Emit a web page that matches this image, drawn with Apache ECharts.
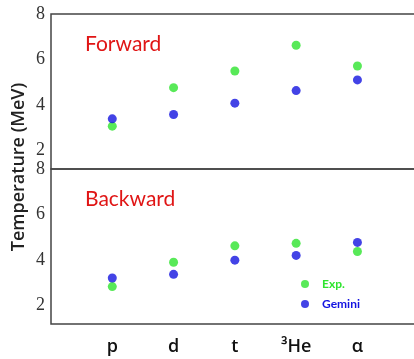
<!DOCTYPE html>
<html>
<head>
<meta charset="utf-8">
<script src="https://cdn.jsdelivr.net/npm/echarts@6/dist/echarts.min.js"></script>
<style>
html, body { margin: 0; padding: 0; background: #fff; }
#chart { width: 414px; height: 359px; }
</style>
</head>
<body>
<div id="chart"></div>
<script>
// particles
var particles = ['p', 'd', 't', '³He', 'α'];
var yTicks = [2, 4, 6, 8];
// Forward
var fwdExp = [3.08, 4.77, 5.50, 6.63, 5.72];
var fwdGemini = [3.40, 3.59, 4.09, 4.64, 5.11];
// Backward
var bwdExp = [2.84, 3.91, 4.63, 4.74, 4.38];
var bwdGemini = [3.22, 3.38, 4.00, 4.21, 4.78];

var green = '#2ee42e';
var blue = '#1414e0';

function pairs(vals) {
	var out = [];
	for (var i = 0; i < vals.length; i++) {
		out.push([particles[i], vals[i]]);
	}
	return out;
}

// empty slots so the frame runs past the right edge
var xCats = [''].concat(particles).concat(['', ' ']);

function xAxisOf(idx, showLabel) {
	return {
		type: 'category',
		gridIndex: idx,
		data: xCats,
		boundaryGap: false,
		axisLine: { show: false },
		axisTick: { show: false },
		splitLine: { show: false },
		axisLabel: {
			show: showLabel,
			interval: 0,
			margin: 14,
			color: '#111',
			fontSize: 18,
			fontFamily: 'Open Sans',
			fontWeight: 600
		}
	};
}

function yAxisOf(idx) {
	return {
		type: 'value',
		gridIndex: idx,
		min: 1.2,
		max: 8,
		axisLine: { show: false },
		axisTick: { show: false },
		splitLine: { show: false },
		axisLabel: {
			customValues: yTicks,
			margin: 6,
			color: '#333',
			fontSize: 18,
			fontFamily: 'Liberation Serif'
		}
	};
}

var myChart = echarts.init(document.getElementById('chart'));
myChart.setOption({
	animation: false,
	backgroundColor: '#fff',
	title: [
		{ text: 'Forward', left: 80, top: 29,
			textStyle: { color: '#e01515', fontSize: 21, fontWeight: 'normal', fontFamily: 'Lato' } },
		{ text: 'Backward', left: 80, top: 184,
			textStyle: { color: '#e01515', fontSize: 21, fontWeight: 'normal', fontFamily: 'Lato' } }
	],
	grid: [
		{ left: 51, top: 14, width: 429, height: 155, outerBoundsMode: 'none', containLabel: false,
			show: true, borderColor: '#444', borderWidth: 1.5 },
		{ left: 51, top: 169, width: 429, height: 155, outerBoundsMode: 'none', containLabel: false,
			show: true, borderColor: '#444', borderWidth: 1.5 }
	],
	xAxis: [xAxisOf(0, false), xAxisOf(1, true)],
	yAxis: [yAxisOf(0), yAxisOf(1)],
	legend: {
		orient: 'vertical',
		left: 296,
		top: 273,
		itemWidth: 24,
		itemHeight: 8,
		itemGap: 8,
		icon: 'circle',
		textStyle: { fontSize: 12, fontWeight: 'bold', fontFamily: 'Lato' },
		data: [
			{ name: 'Exp.', textStyle: { color: green } },
			{ name: 'Gemini', textStyle: { color: blue } }
		]
	},
	graphic: [{
		type: 'text',
		x: 19,
		y: 167,
		rotation: Math.PI / 2,
		style: {
			text: 'Temperature (MeV)',
			fill: '#222',
			font: '600 18px "Open Sans"',
			align: 'center',
			verticalAlign: 'middle'
		}
	}],
	series: [
		{ name: 'Exp.', type: 'scatter', xAxisIndex: 0, yAxisIndex: 0, symbolSize: 9,
			itemStyle: { color: green }, data: pairs(fwdExp) },
		{ name: 'Gemini', type: 'scatter', xAxisIndex: 0, yAxisIndex: 0, symbolSize: 9,
			itemStyle: { color: blue }, data: pairs(fwdGemini) },
		{ name: 'Exp.', type: 'scatter', xAxisIndex: 1, yAxisIndex: 1, symbolSize: 9,
			itemStyle: { color: green }, data: pairs(bwdExp) },
		{ name: 'Gemini', type: 'scatter', xAxisIndex: 1, yAxisIndex: 1, symbolSize: 9,
			itemStyle: { color: blue }, data: pairs(bwdGemini) }
	]
});
</script>
</body>
</html>
